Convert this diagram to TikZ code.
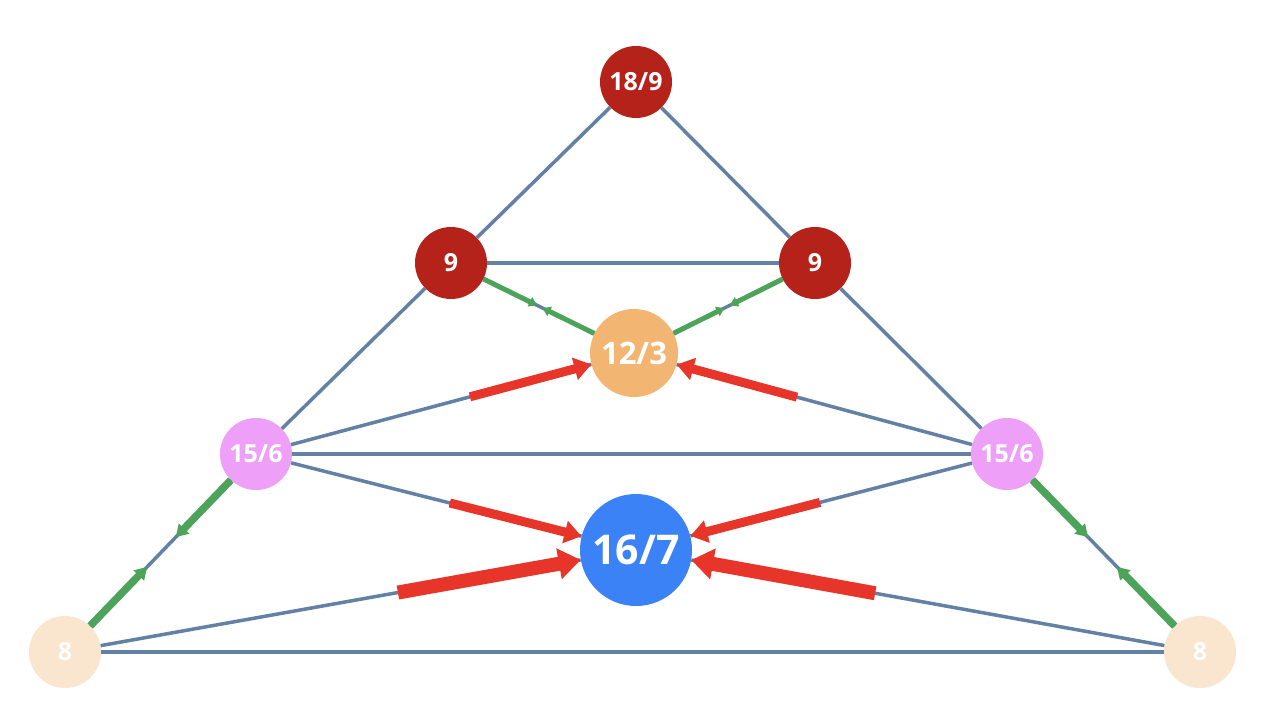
\documentclass[tikz,border=0pt]{standalone}
\usepackage{fontspec}
\setmainfont{Open Sans}
\usepackage{xcolor}
\definecolor{wine}{HTML}{B5221A}
\definecolor{peach}{HTML}{F2B572}
\definecolor{orchid}{HTML}{EEA0F8}
\definecolor{azure}{HTML}{3B82F6}
\definecolor{sand}{HTML}{FAE5CE}
\definecolor{steel}{HTML}{6381A4}
\definecolor{leaf}{HTML}{4DA35A}
\definecolor{flame}{HTML}{E8352A}
\usepackage{tikz}
\usetikzlibrary{arrows.meta,calc}
\tikzset{
  ball/.style={circle,inner sep=0pt,text=white,font=\bfseries\fontsize{25}{30}\selectfont},
  apex/.style={ball,fill=wine,minimum size=72pt},
  mid/.style={ball,fill=peach,minimum size=88pt,font=\bfseries\fontsize{31}{36}\selectfont},
  side/.style={ball,fill=orchid,minimum size=72pt},
  core/.style={ball,fill=azure,minimum size=112pt,font=\bfseries\fontsize{41}{48}\selectfont},
  base/.style={ball,fill=sand,minimum size=72pt},
  edge/.style={draw=steel,line width=3.5pt},
  pull/.style={draw=flame,line width=9pt,-{Triangle[length=17pt,width=22pt]}},
  pullb/.style={draw=flame,line width=14pt,-{Triangle[length=22pt,width=30pt]}},
  feed/.style={draw=leaf,line width=5pt,-{Triangle[length=8pt,width=10pt]}},
  feedb/.style={draw=leaf,line width=7.5pt,-{Triangle[length=12pt,width=14pt]}},
}

\begin{document}
\begin{tikzpicture}[x=1pt,y=-1pt]
  \fill[white] (0,0) rectangle (1268,714);
  \useasboundingbox (0,0) rectangle (1268,714);

  % ---- nodes ----
  \node[apex] (top) at (636,82) {18/9};
  \node[apex] (nl) at (451,263) {9};
  \node[apex] (nr) at (815,263) {9};
  \node[mid] (tw) at (634,353) {12/3};
  \node[side] (fl) at (256,454) {15/6};
  \node[side] (fr) at (1007,454) {15/6};
  \node[core] (sx) at (636,550) {16/7};
  \node[base] (el) at (65,652) {8};
  \node[base] (er) at (1200,652) {8};

  % ---- frame ----
  \foreach \a/\b in {top/nl,top/nr,nl/nr,nl/fl,nr/fr,fl/fr,fl/el,fr/er,el/er,
                     fl/tw,fr/tw,fl/sx,fr/sx,el/sx,er/sx,nl/tw,nr/tw}
    \draw[edge] (\a) -- (\b);

  % ---- green ----
  \draw[feed] (nl) -- ($(nl)!0.47!(tw)$);
  \draw[feed] (tw) -- ($(tw)!0.5!(nl)$);
  \draw[feed] (nr) -- ($(nr)!0.47!(tw)$);
  \draw[feed] (tw) -- ($(tw)!0.5!(nr)$);
  \draw[feedb] (fl) -- ($(fl)!0.42!(el)$);
  \draw[feedb] (el) -- ($(el)!0.43!(fl)$);
  \draw[feedb] (fr) -- ($(fr)!0.42!(er)$);
  \draw[feedb] (er) -- ($(er)!0.43!(fr)$);

  % ---- red ----
  \draw[pull] ($(fl)!0.566!(tw)$) -- (tw);
  \draw[pull] ($(fr)!0.563!(tw)$) -- (tw);
  \draw[pull] ($(fl)!0.51!(sx)$) -- (sx);
  \draw[pull] ($(fr)!0.504!(sx)$) -- (sx);
  \draw[pullb] ($(el)!0.583!(sx)$) -- (sx);
  \draw[pullb] ($(er)!0.576!(sx)$) -- (sx);
\end{tikzpicture}
\end{document}
